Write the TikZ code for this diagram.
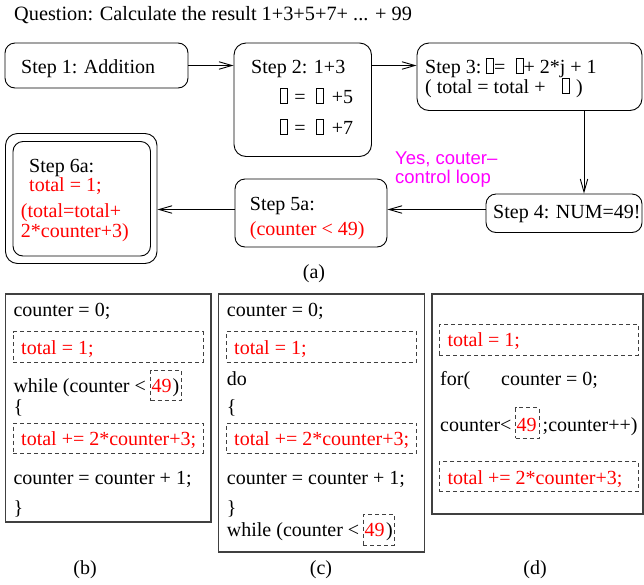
\documentclass[tikz,border=0pt]{standalone}
\usepackage{fontspec}
\setmainfont{Liberation Serif}
\newfontfamily\sansfam{Liberation Sans}
\usetikzlibrary{arrows.meta,fit}
\definecolor{magpink}{RGB}{255,0,255}
\definecolor{pured}{RGB}{255,0,0}
\newcommand{\gbox}{{\setlength{\fboxsep}{0pt}\setlength{\fboxrule}{0.6pt}\fbox{\rule{0pt}{14pt}\hspace{6.5pt}}}}
\begin{document}
\begin{tikzpicture}[x=1pt,y=-1pt,
  txt/.style={anchor=base west, inner sep=0pt, font=\fontsize{20}{24}\selectfont},
  ctxt/.style={anchor=base, inner sep=0pt, font=\fontsize{20}{24}\selectfont},
  redtxt/.style={txt, text=pured},
  magtxt/.style={anchor=base west, inner sep=0pt, text=magpink, font=\sansfam\fontsize{18.5}{22}\selectfont},
  stepbox/.style={draw=black, line width=0.9pt, rounded corners=10pt, inner sep=0pt},
  codebox/.style={draw=black!75, line width=1.1pt, inner sep=0pt},
  dbox/.style={draw=black!75, line width=0.9pt, dash pattern=on 4pt off 3pt, inner sep=0pt},
  arr/.style={-{Straight Barb[length=13pt,width=7.5pt]}, line width=0.9pt},
]
\useasboundingbox (0,0) rectangle (644,584);

% question
\node[txt, font=\fontsize{20.3}{24}\selectfont] (q) at (14,20) {Question: Calculate the result 1+3+5+7+ ... + 99};

% step boxes
\node[stepbox, fit={(5,43)(188,88)}] (s1) {};
\node[stepbox, rounded corners=12pt, fit={(234,43)(371.5,156.5)}] (s2) {};
\node[stepbox, rounded corners=12pt, fit={(417,43)(642,110.5)}] (s3) {};
\node[stepbox, fit={(486,194)(642,232.5)}] (s4) {};
\node[stepbox, fit={(235,179)(387,247)}] (s5) {};
\node[stepbox, rounded corners=12pt, fit={(5.5,133.5)(157,263.5)}] (s6o) {};
\node[stepbox, fit={(13,141.5)(150.5,256)}] (s6i) {};

% step texts
\node[txt] (t1) at (21,73) {Step 1: Addition};
\node[txt] (t2a) at (251,73.3) {Step 2: 1+3};
\node[txt] (t2b) at (280,103) {\gbox\hspace{6.5pt}=\hspace{10.5pt}\gbox\hspace{8pt}+5};
\node[txt] (t2c) at (280,134) {\gbox\hspace{6.5pt}=\hspace{10.5pt}\gbox\hspace{8pt}+7};
\node[txt] (t3a) at (425,73) {Step 3:\hspace{4.5pt}\gbox\hspace{0.5pt}=\hspace{10.5pt}\gbox+ 2*j + 1};
\node[txt] (t3b) at (425,93) {( total = total +\hspace{16.5pt}\gbox\hspace{6.5pt})};
\node[txt] (t4) at (493,218) {Step 4: NUM=49!};
\node[txt] (t5a) at (249.7,210) {Step 5a:};
\node[redtxt] (t5b) at (249.7,235) {(counter < 49)};
\node[txt] (t6a) at (29,172) {Step 6a:};
\node[redtxt] (t6b) at (29,191.7) {total = 1;};
\node[redtxt] (t6c) at (20.7,217) {(total=total+};
\node[redtxt] (t6d) at (20.7,237) {2*counter+3)};
\node[magtxt] (m1) at (395,164) {Yes, couter–};
\node[magtxt] (m2) at (395,183) {control loop};
\node[ctxt] (la) at (314,278) {(a)};

% connectors
\coordinate (c34) at (584,0);
\coordinate (ly) at (0,209.5);
\draw[arr] (s1.east) -- (s2.west |- s1.east);
\draw[arr] (s2.east |- s1.east) -- (s3.west |- s1.east);
\draw[arr] (s3.south -| c34) -- (s4.north -| c34);
\draw[arr] (s4.west |- ly) -- (s5.east |- ly);
\draw[arr] (s5.west |- ly) -- (s6o.east |- ly);

% panel (b)
\node[codebox, fit={(5.5,294)(211,522)}] (pb) {};
\node[txt] (b1) at (13.3,316.7) {counter = 0;};
\node[dbox, fit={(13.3,331.7)(203,362)}] (bd1) {};
\node[redtxt] (b2) at (21,354) {total = 1;};
\node[txt] (b3) at (13.3,392) {while (counter <};
\node[dbox, fit={(150.7,370)(181,400.7)}] (bd2) {};
\node[redtxt] (b4) at (151.5,392) {49};
\node[txt] (b5) at (172.3,392) {)};
\node[txt] (b6) at (13.3,413) {\{};
\node[dbox, fit={(13.3,423)(203,453)}] (bd3) {};
\node[redtxt] (b7) at (21,445.7) {total += 2*counter+3;};
\node[txt] (b8) at (13.3,484) {counter = counter + 1;};
\node[txt] (b9) at (13.3,514.7) {\}};
\node[ctxt] (lb) at (85,574) {(b)};

% panel (c)
\node[codebox, fit={(218.7,294)(424.7,552)}] (pc) {};
\node[txt] (c1) at (226.7,316.7) {counter = 0;};
\node[dbox, fit={(226.7,331.7)(416.7,362)}] (cd1) {};
\node[redtxt] (c2) at (234,354) {total = 1;};
\node[txt] (c3) at (226.7,385) {do};
\node[txt] (c4) at (226.7,413) {\{};
\node[dbox, fit={(226.7,423)(416.7,453)}] (cd2) {};
\node[redtxt] (c5) at (234,445.7) {total += 2*counter+3;};
\node[txt] (c6) at (226.7,484) {counter = counter + 1;};
\node[txt] (c7) at (226.7,514.7) {\}};
\node[txt] (c8) at (226.7,536.7) {while (counter <};
\node[dbox, fit={(363.3,514.3)(394.3,545)}] (cd3) {};
\node[redtxt] (c9) at (364.5,536.7) {49};
\node[txt] (c10) at (385.8,536.7) {)};
\node[ctxt] (lc) at (321,574) {(c)};

% panel (d)
\node[codebox, fit={(432,294)(643,514)}] (pd) {};
\node[dbox, fit={(439.3,324.3)(638.3,355)}] (dd1) {};
\node[redtxt] (d1) at (447.3,346.7) {total = 1;};
\node[txt] (d2) at (440,385) {for(};
\node[txt] (d3) at (501,385) {counter = 0;};
\node[txt] (d4) at (440,431.7) {counter<};
\node[dbox, fit={(515.7,407.7)(539,438.3)}] (dd2) {};
\node[redtxt] (d5) at (516.5,431.7) {49};
\node[txt] (d6) at (542.5,431.7) {;counter++)};
\node[dbox, fit={(439.3,461.7)(638.3,491.7)}] (dd3) {};
\node[redtxt] (d7) at (447.3,484) {total += 2*counter+3;};
\node[ctxt] (ld) at (535,574) {(d)};
\end{tikzpicture}
\end{document}
